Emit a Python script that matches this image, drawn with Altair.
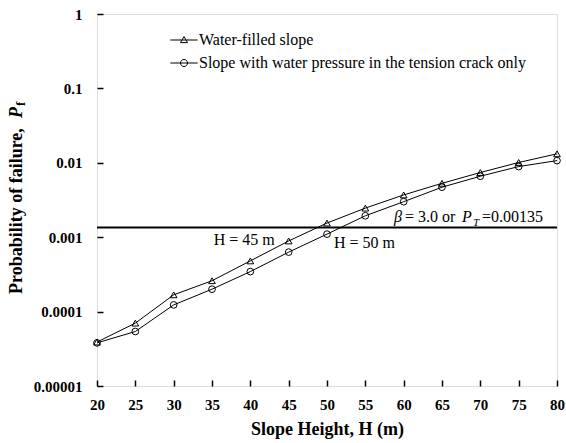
import altair as alt
import pandas as pd

# ---- data ----
heights = [20, 25, 30, 35, 40, 45, 50, 55, 60, 65, 70, 75, 80]
water_filled = [3.9e-5, 7.0e-5, 1.68e-4, 2.6e-4, 4.8e-4, 8.9e-4, 1.55e-3,
                2.46e-3, 3.7e-3, 5.3e-3, 7.4e-3, 1.01e-2, 1.32e-2]
tension_crack = [3.8e-5, 5.4e-5, 1.23e-4, 2.0e-4, 3.45e-4, 6.3e-4, 1.1e-3,
                 1.94e-3, 3.0e-3, 4.7e-3, 6.6e-3, 8.9e-3, 1.07e-2]
series_names = ["Water-filled slope",
                "Slope with water pressure in the tension crack only"]
x_ticks = [20, 25, 30, 35, 40, 45, 50, 55, 60, 65, 70, 75, 80]
y_ticks = [0.00001, 0.0001, 0.001, 0.01, 0.1, 1]
p_target = 0.00135

FONT = "Liberation Serif"
NB = "\u00a0"

df = pd.DataFrame({
    "H": heights + heights,
    "Pf": water_filled + tension_crack,
    "series": [series_names[0]] * len(heights) + [series_names[1]] * len(heights),
})

x_scale = alt.Scale(domain=[20, 80], nice=False, zero=False)
y_scale = alt.Scale(type="log", domain=[0.00001, 1], nice=False)

x_axis = alt.Axis(values=x_ticks, title="Slope Height, H (m)", offset=-6, tickSize=6,
                  domain=False, grid=False, tickColor="black", tickWidth=1.5,
                  labelFont=FONT, labelFontSize=15, labelFontWeight="bold",
                  labelColor="black", labelPadding=11, labelFlush=False,
                  labelOverlap=False,
                  titleFont=FONT, titleFontSize=18, titleFontWeight="bold",
                  titleColor="black", titlePadding=8)
y_axis = alt.Axis(values=y_ticks, format="~g", title=None, offset=-6, tickSize=6,
                  domain=False, grid=False, tickColor="black", tickWidth=1.5,
                  labelFont=FONT, labelFontSize=15, labelFontWeight="bold",
                  labelColor="black", labelPadding=15, labelFlush=False,
                  labelOverlap=False)

X = alt.X("H:Q", scale=x_scale, axis=x_axis)
Y = alt.Y("Pf:Q", scale=y_scale, axis=y_axis)

lines = alt.Chart(df).mark_line(color="black", strokeWidth=1).encode(
    x=X, y=Y, detail="series:N")

tri = alt.Chart(df).transform_filter(
    alt.datum.series == series_names[0]).mark_point(
    shape="triangle-up", filled=False, size=45, color="black",
    strokeWidth=1, opacity=1).encode(x=X, y=Y)

circ = alt.Chart(df).transform_filter(
    alt.datum.series == series_names[1]).mark_point(
    shape="circle", filled=False, size=45, color="black",
    strokeWidth=1, opacity=1).encode(x=X, y=Y)

# legend-only layer (no visible marks): symbols = line + marker
legend_paths = ["M-3.9,0H3.9M0,-1L1,0.75H-1Z",
                "M-3.9,0H3.9M1,0A1,1,0,1,1,-1,0A1,1,0,1,1,1,0"]
legend_layer = alt.Chart(df).transform_filter("false").mark_point(
    filled=False, color="black", opacity=1).encode(
    x=X, y=Y,
    shape=alt.Shape("series:N",
                    scale=alt.Scale(domain=series_names, range=legend_paths),
                    legend=alt.Legend(orient="none", legendX=79, legendY=18,
                                      title=None, labelFont=FONT, labelFontSize=16,
                                      labelColor="black", symbolSize=49,
                                      symbolStrokeColor="black", symbolStrokeWidth=1,
                                      symbolFillColor="transparent",
                                      labelOffset=7, rowPadding=7, padding=0,
                                      labelLimit=500)))

thr_df = pd.DataFrame({"Pf": [p_target]})
rule = alt.Chart(thr_df).mark_rule(color="black", strokeWidth=2).encode(y=Y)

# annotations
def note(x, text, dx, dy, align="left", size=16, style="normal"):
    d = pd.DataFrame({"H": [x], "Pf": [p_target], "t": [text]})
    return alt.Chart(d).mark_text(font=FONT, fontSize=size, fontStyle=style,
                                  align=align, baseline="alphabetic", dx=dx, dy=dy,
                                  color="black").encode(x=X, y=Y, text="t:N")

h45 = note(45, "H = 45 m", -14, 17, align="right")
h50 = note(50, "H = 50 m", 7, 20)
beta_x = 58.74
b1 = note(beta_x, "β", 0, -6, style="italic")
b2 = note(beta_x, "=" + NB + "3.0" + NB + "or", 11, -6)
b3 = note(beta_x, "P", 68, -6, style="italic")
b4 = note(beta_x, "T", 79, -2, size=11, style="italic")
b5 = note(beta_x, "=0.00135", 88, -6)

# y-axis title composed of pieces (italic P, subscript f)
def ytitle(text, xpix, ypix, size, style="normal"):
    d = pd.DataFrame({"t": [text]})
    return alt.Chart(d).mark_text(font=FONT, fontSize=size, fontWeight="bold",
                                  fontStyle=style, angle=270, align="left",
                                  baseline="middle", color="black").encode(
        x=alt.value(xpix), y=alt.value(ypix), text="t:N")

yt1 = ytitle("Probability of failure,", -80, 280, 18)
yt2 = ytitle("P", -80, 104, 18, style="italic")
yt3 = ytitle("f", -76, 92, 13)

chart = alt.layer(rule, lines, tri, circ, legend_layer, h45, h50,
                  b1, b2, b3, b4, b5, yt1, yt2, yt3).properties(
    width=460, height=372,
    autosize=alt.AutoSizeParams(type="none"),
    padding={"left": 97, "top": 14, "right": 9, "bottom": 57},
).configure_view(stroke="black", strokeWidth=2).configure(background="white")

chart.save("out.html", embed_options={"renderer": "svg", "actions": False})
